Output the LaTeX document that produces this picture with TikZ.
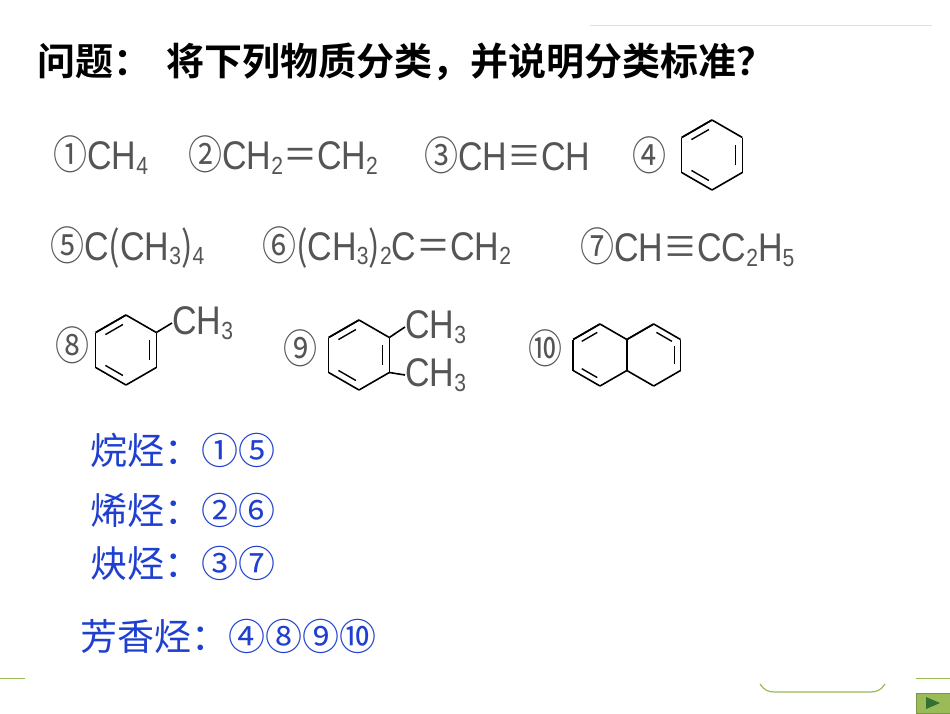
\documentclass[tikz,border=0pt]{standalone}
\usepackage{fontspec}
\setmainfont{Liberation Sans}
\newfontfamily\cjk{Noto Sans CJK SC}
\newfontfamily\cjkb{Noto Sans CJK SC}[BoldFont={* Bold}]
\usepackage{graphicx}
\usetikzlibrary{calc}
\newcommand\mysb[1]{\raisebox{-0.12em}{\scalebox{0.62}{#1}}}
\newcommand\nar[1]{\scalebox{0.85}[1]{#1}}
\definecolor{fgray}{HTML}{555555}
\definecolor{ablue}{HTML}{1F3FD0}
\definecolor{pgreen}{HTML}{9BBB59}
\tikzset{
  frm/.style={anchor=west,inner sep=0pt,text=fgray,font=\fontsize{40}{40}\selectfont},
  ans/.style={anchor=west,inner sep=0pt,text=ablue,font=\cjk\fontsize{37}{37}\selectfont},
  bond/.style={line width=1.6pt,line join=round},
}
\newcommand\ring[1]{\foreach \a in {90,150,...,450}{\draw[bond] (\a:#1) -- (\a+60:#1);}}
\newcommand\inb[2]{\draw[line width=1.4pt] ($(#2:0.78*#1)!0.13!(#2+60:0.78*#1)$) -- ($(#2+60:0.78*#1)!0.13!(#2:0.78*#1)$);}
\begin{document}
\begin{tikzpicture}[x=1pt,y=-1pt]
\useasboundingbox (0,0) rectangle (950,713);
\fill[white] (0,0) rectangle (950,713);
% decorations
\draw[gray!25,line width=0.8pt] (590,25) -- (932,25);
\draw[pgreen,line width=1pt] (0,678) -- (25,678);
\draw[pgreen,line width=1pt] (916,678) -- (950,678);
\draw[pgreen,line width=1.2pt] (760,684) .. controls (764,690) and (768,692) .. (775,692) -- (870,692) .. controls (877,692) and (881,690) .. (885,684);
\node[draw=pgreen!80!black,fill=pgreen,minimum width=36pt,minimum height=20pt,inner sep=0pt,anchor=north west] (btn) at (916,693) {};
\fill[green!30!black!80] (926,697) -- (940,703) -- (926,709) -- cycle;
% title
\node[anchor=west,inner sep=0pt,font=\cjkb\bfseries\fontsize{38}{38}\selectfont] (title) at (37,62) {问题：\hspace{0.4em}将下列物质分类，并说明分类标准？};
% row 1
\node[frm] (f1) at (53,155) {\nar{{\cjk ①}CH\mysb{4}}};
\node[frm] (f2) at (188,155) {\nar{{\cjk ②}CH\mysb{2}{\cjk ＝}CH\mysb{2}}};
\node[frm] (f3) at (424,155) {\nar{{\cjk ③}CH{\cjk ≡}CH}};
\node[frm] (f4) at (632,155) {\nar{{\cjk ④}}};
% row 2
\node[frm] (f5) at (50,247) {\nar{{\cjk ⑤}C{\cjk (}CH\mysb{3}{\cjk )}\mysb{4}}};
\node[frm] (f6) at (262,247) {\nar{{\cjk ⑥}{\cjk (}CH\mysb{3}{\cjk )}\mysb{2}C{\cjk ＝}CH\mysb{2}}};
\node[frm] (f7) at (580,247) {\nar{{\cjk ⑦}CH{\cjk ≡}CC\mysb{2}H\mysb{5}}};
% row 3 labels
\node[frm] (f8) at (55,345) {\nar{{\cjk ⑧}}};
\node[frm] (f9) at (283,348) {\nar{{\cjk ⑨}}};
\node[frm] (f10) at (528,348) {\nar{{\cjk ⑩}}};
% benzene 4
\begin{scope}[shift={(712,155)},yscale=-1]
\ring{35}\inb{35}{-30}\inb{35}{90}\inb{35}{210}
\end{scope}
% toluene 8
\begin{scope}[shift={(126,350)},yscale=-1]
\ring{35}\inb{35}{-30}\inb{35}{90}\inb{35}{210}
\coordinate (v8) at (30:35);
\end{scope}
\node[frm] (m8) at (172,323) {\nar{CH\mysb{3}}};
\draw[bond] (v8) -- (m8.west);
% xylene 9
\begin{scope}[shift={(359,355)},yscale=-1]
\ring{35}\inb{35}{-30}\inb{35}{90}\inb{35}{210}
\coordinate (v9a) at (30:35);
\coordinate (v9b) at (-30:35);
\end{scope}
\node[frm] (m9a) at (405,327) {\nar{CH\mysb{3}}};
\node[frm] (m9b) at (405,375) {\nar{CH\mysb{3}}};
\draw[bond] (v9a) -- (m9a.west);
\draw[bond] (v9b) -- (m9b.west);
% naphthalene 10
\begin{scope}[shift={(600,355)},yscale=-1]
\ring{31}\inb{31}{90}\inb{31}{210}
\end{scope}
\begin{scope}[shift={(653.7,355)},yscale=-1]
\ring{31}\inb{31}{30}\inb{31}{-30}
\end{scope}
% answers
\node[ans] (a1) at (90,450) {烷烃：①⑤};
\node[ans] (a2) at (90,510) {烯烃：②⑥};
\node[ans] (a3) at (90,563) {炔烃：③⑦};
\node[ans] (a4) at (80,636) {芳香烃：④⑧⑨⑩};
\end{tikzpicture}
\end{document}
